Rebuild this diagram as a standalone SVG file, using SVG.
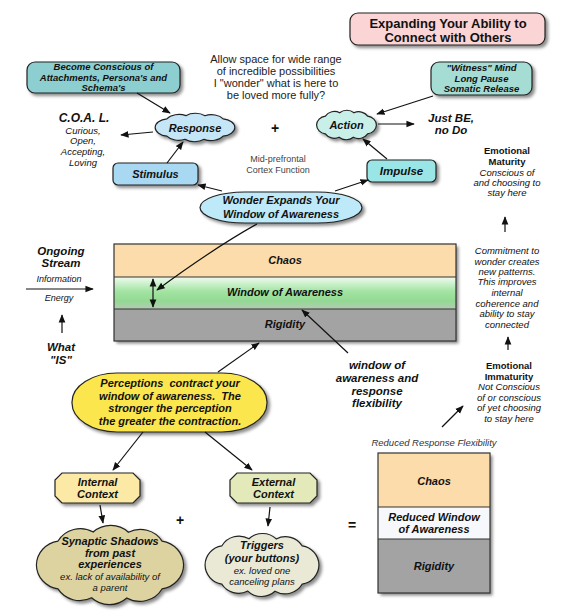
<svg xmlns="http://www.w3.org/2000/svg" xmlns:xlink="http://www.w3.org/1999/xlink" width="580" height="616" viewBox="0 0 580 616">
<defs>
<style>
text{font-family:"Liberation Sans",Arial,sans-serif;fill:#111;text-anchor:middle}
.bi{font-weight:bold;font-style:italic}
.b{font-weight:bold}
.i{font-style:italic}
.s{stroke:#222;stroke-width:1.2}
.sh{filter:url(#shadow)}
.c{stroke:#111;stroke-width:1.2;fill:none;marker-end:url(#ah)}
</style>
<filter id="shadow" x="-20%" y="-20%" width="150%" height="160%">
<feDropShadow dx="2.5" dy="2.5" stdDeviation="1.5" flood-color="#000" flood-opacity="0.45"/>
</filter>
<marker id="ah" viewBox="0 0 10 10" refX="9" refY="5" markerWidth="7" markerHeight="7" orient="auto-start-reverse">
<path d="M0,1 L10,5 L0,9 z" fill="#111"/>
</marker>
<path id="cloud" vector-effect="non-scaling-stroke" d="M92,0 A32,32 0 0 1 65,31.1 A32,32 0 0 1 21,42.8 A32,32 0 0 1 -23,42.6 A32,32 0 0 1 -65,31.1 A32,32 0 0 1 -92,0 A32,32 0 0 1 -65,-31.1 A32,32 0 0 1 -21,-42.8 A32,32 0 0 1 23,-42.6 A32,32 0 0 1 65,-31.1 A32,32 0 0 1 92,0 Z"/>
<linearGradient id="wg" x1="0" y1="0" x2="0" y2="1">
<stop offset="0" stop-color="#f0fbf0"/>
<stop offset="0.45" stop-color="#a2e4a2"/>
<stop offset="0.75" stop-color="#93d993"/>
<stop offset="1" stop-color="#b7c9b7"/>
</linearGradient>
</defs>
<rect width="580" height="616" fill="#fff"/>

<g id="title">
<g class="sh"><rect class="s" x="350" y="13" width="195" height="32" rx="8" fill="#fbd5d5"/></g>
<text class="b" x="448" y="27.5" font-size="13">Expanding Your Ability to</text>
<text class="b" x="448" y="41.5" font-size="13">Connect with Others</text>
</g>

<g id="become">
<g class="sh"><rect class="s" x="27" y="62" width="153" height="31" rx="8" fill="#8dcfd0"/></g>
<text class="bi" x="103.5" y="70" font-size="9.5">Become Conscious of</text>
<text class="bi" x="103.5" y="80.5" font-size="9.5">Attachments, Persona's and</text>
<text class="bi" x="103.5" y="91" font-size="9.5">Schema's</text>
</g>

<g id="allow">
<text x="276" y="63" font-size="11" style="fill:#222">Allow space for wide range</text>
<text x="276" y="75" font-size="11" style="fill:#222">of incredible possibilities</text>
<text x="276" y="87" font-size="11" style="fill:#222">I "wonder" what is here to</text>
<text x="276" y="99" font-size="11" style="fill:#222">be loved more fully?</text>
</g>

<g id="witness">
<g class="sh"><rect class="s" x="431" y="62" width="101" height="33" rx="8" fill="#a5dcd3"/></g>
<text class="bi" x="481.5" y="70.5" font-size="9.5">"Witness" Mind</text>
<text class="bi" x="481.5" y="81.5" font-size="9.5">Long Pause</text>
<text class="bi" x="481.5" y="92" font-size="9.5">Somatic Release</text>
</g>

<g id="coal">
<text class="bi" x="84" y="122" font-size="12">C.O.A. L.</text>
<text class="i" x="83" y="134" font-size="9.5">Curious,</text>
<text class="i" x="83" y="144" font-size="9.5">Open,</text>
<text class="i" x="83" y="155" font-size="9.5">Accepting,</text>
<text class="i" x="83" y="165.5" font-size="9.5">Loving</text>
</g>

<g id="response">
<g class="sh"><use href="#cloud" class="s" fill="#c4e6f6" transform="translate(195,127.5) scale(0.433,0.277)"/></g>
<text class="bi" x="195" y="131.5" font-size="11">Response</text>
</g>

<g id="plus-top"><text class="b" x="275" y="133" font-size="14">+</text></g>

<g id="action">
<g class="sh"><use href="#cloud" class="s" fill="#c9efe9" transform="translate(346.5,125) scale(0.325,0.287)"/></g>
<text class="bi" x="346.5" y="129" font-size="11">Action</text>
</g>

<g id="justbe">
<text class="bi" x="451" y="122" font-size="11.5">Just BE,</text>
<text class="bi" x="451" y="134" font-size="11.5">no Do</text>
</g>

<g id="stimulus">
<g class="sh"><rect class="s" x="113" y="163" width="85" height="22" rx="5" fill="#a9d8f2"/></g>
<text class="bi" x="155.5" y="178" font-size="11">Stimulus</text>
</g>

<g id="midpre">
<text x="278" y="162" font-size="9" style="fill:#444">Mid-prefrontal</text>
<text x="278" y="173" font-size="9" style="fill:#444">Cortex Function</text>
</g>

<g id="impulse">
<g class="sh"><rect class="s" x="367" y="160" width="69" height="22" rx="5" fill="#9ae5e5"/></g>
<text class="bi" x="401.5" y="175" font-size="11.5">Impulse</text>
</g>

<g id="maturity">
<text class="b" x="507" y="154" font-size="9.5">Emotional</text>
<text class="b" x="507" y="165" font-size="9.5">Maturity</text>
<text class="i" x="507" y="175.5" font-size="9.5">Conscious of</text>
<text class="i" x="507" y="186" font-size="9.5">and choosing to</text>
<text class="i" x="507" y="196" font-size="9.5">stay here</text>
</g>

<g id="wonder">
<g class="sh"><rect class="s" x="200" y="192" width="162" height="31" rx="45" ry="15.5" fill="#bde9f8"/></g>
<text class="bi" x="281" y="204" font-size="11">Wonder Expands Your</text>
<text class="bi" x="281" y="218" font-size="11">Window of Awareness</text>
</g>

<g id="stream">
<text class="bi" x="61" y="255" font-size="11.5">Ongoing</text>
<text class="bi" x="61" y="267" font-size="11.5">Stream</text>
<text class="i" x="59" y="282" font-size="9">Information</text>
<text class="i" x="59" y="301" font-size="9">Energy</text>
</g>

<g id="whatis">
<text class="bi" x="61" y="351" font-size="11.5">What</text>
<text class="bi" x="61" y="364" font-size="11.5">"IS"</text>
</g>

<g id="window-main">
<g class="sh"><rect x="114" y="244" width="342" height="97" fill="#a3a3a3"/></g>
<rect x="114" y="244" width="342" height="33" fill="#fddcab"/>
<rect x="114" y="277" width="342" height="32" fill="url(#wg)"/>
<rect x="114" y="309" width="342" height="32" fill="#a3a3a3"/>
<path d="M114,277 H456 M114,309 H456" stroke="#333" stroke-width="1"/>
<rect x="114" y="244" width="342" height="97" fill="none" stroke="#333" stroke-width="1.2"/>
<text class="bi" x="285" y="264" font-size="11">Chaos</text>
<text class="bi" x="285" y="296" font-size="11">Window of Awareness</text>
<text class="bi" x="285" y="327.5" font-size="11">Rigidity</text>
</g>

<g id="commitment">
<text class="i" x="507" y="254" font-size="9.5">Commitment to</text>
<text class="i" x="507" y="264.5" font-size="9.5">wonder creates</text>
<text class="i" x="507" y="274.5" font-size="9.5">new patterns.</text>
<text class="i" x="507" y="285" font-size="9.5">This improves</text>
<text class="i" x="507" y="296" font-size="9.5">internal</text>
<text class="i" x="507" y="306.5" font-size="9.5">coherence and</text>
<text class="i" x="507" y="317" font-size="9.5">ability to stay</text>
<text class="i" x="507" y="328" font-size="9.5">connected</text>
</g>

<g id="flex">
<text class="bi" x="377" y="369" font-size="11.5">window of</text>
<text class="bi" x="377" y="382" font-size="11.5">awareness and</text>
<text class="bi" x="377" y="395" font-size="11.5">response</text>
<text class="bi" x="377" y="407" font-size="11.5">flexibility</text>
</g>

<g id="immaturity">
<text class="b" x="509" y="368.5" font-size="9.5">Emotional</text>
<text class="b" x="509" y="379.5" font-size="9.5">Immaturity</text>
<text class="i" x="509" y="390" font-size="9.5">Not Conscious</text>
<text class="i" x="509" y="400.5" font-size="9.5">of or conscious</text>
<text class="i" x="509" y="410.5" font-size="9.5">of yet choosing</text>
<text class="i" x="509" y="421.5" font-size="9.5">to stay here</text>
</g>

<g id="perceptions">
<g class="sh"><rect class="s" x="72" y="373" width="195" height="59" rx="45" ry="29" fill="#fbe64e"/></g>
<text class="bi" x="170" y="387" font-size="11" xml:space="preserve">Perceptions  contract your</text>
<text class="bi" x="170" y="399.5" font-size="11" xml:space="preserve">window of awareness.  The</text>
<text class="bi" x="170" y="412" font-size="11">stronger the perception</text>
<text class="bi" x="170" y="425" font-size="11">the greater the contraction.</text>
</g>

<g id="internal">
<g class="sh"><path class="s" d="M62,473 H133 L140,480 V496 L133,503 H62 L55,496 V480 Z" fill="#fde9a6"/></g>
<text class="bi" x="97.5" y="486" font-size="11">Internal</text>
<text class="bi" x="97.5" y="498" font-size="11">Context</text>
</g>

<g id="external">
<g class="sh"><path class="s" d="M237,473 H310 L317,480 V496 L310,503 H237 L230,496 V480 Z" fill="#e3e9b9"/></g>
<text class="bi" x="273.5" y="486" font-size="11">External</text>
<text class="bi" x="273.5" y="498" font-size="11">Context</text>
</g>

<g id="synaptic">
<g class="sh"><use href="#cloud" class="s" fill="#ddd3a0" transform="translate(110,565) scale(0.8,0.77)"/></g>
<text class="bi" x="110" y="545" font-size="11">Synaptic Shadows</text>
<text class="bi" x="110" y="556.5" font-size="11">from past</text>
<text class="bi" x="110" y="568" font-size="11">experiences</text>
<text class="i" x="110" y="580" font-size="9.5">ex. lack of availability of</text>
<text class="i" x="110" y="591" font-size="9.5">a parent</text>
</g>

<g id="plus-bottom"><text class="b" x="180" y="525" font-size="14">+</text></g>

<g id="triggers">
<g class="sh"><use href="#cloud" class="s" fill="#e9e9d6" transform="translate(262,565) scale(0.619,0.612)"/></g>
<text class="bi" x="262" y="549" font-size="11">Triggers</text>
<text class="bi" x="262" y="562" font-size="11">(your buttons)</text>
<text class="i" x="262" y="574" font-size="9.5">ex. loved one</text>
<text class="i" x="262" y="584.5" font-size="9.5">canceling plans</text>
</g>

<g id="equals"><text class="b" x="352" y="530" font-size="14">=</text></g>

<g id="reduced">
<text class="i" x="434" y="445.5" font-size="9.5" style="fill:#333">Reduced Response Flexibility</text>
<g class="sh"><rect x="378" y="453" width="112" height="140" fill="#a3a3a3"/></g>
<rect x="378" y="453" width="112" height="54" fill="#fddcab"/>
<rect x="378" y="507" width="112" height="32" fill="#f6f8fc"/>
<path d="M378,507 H490 M378,539 H490" stroke="#333" stroke-width="1"/>
<rect x="378" y="453" width="112" height="140" fill="none" stroke="#333" stroke-width="1.2"/>
<text class="bi" x="434" y="485" font-size="11">Chaos</text>
<text class="bi" x="434" y="521" font-size="11">Reduced Window</text>
<text class="bi" x="434" y="533" font-size="11">of Awareness</text>
<text class="bi" x="434" y="570" font-size="11">Rigidity</text>
</g>

<g id="connectors">
<path class="c" d="M137,93 L170,113"/>
<path class="c" d="M153,132 L121,135"/>
<path class="c" d="M167,163 L183,142"/>
<path class="c" d="M433,96 L377,114"/>
<path class="c" d="M378,124 L414,124"/>
<path class="c" d="M387,159 L363,139"/>
<path class="c" d="M222,191 L198,185"/>
<path class="c" d="M335,191 L368,180"/>
<path class="c" d="M257,224 Q214,248 157,290"/>
<path class="c" d="M153,279 L153,307" style="marker-start:url(#ah)"/>
<path class="c" d="M26,289 L93,289"/>
<path class="c" d="M62,333 L62,315"/>
<path class="c" d="M218,372 L259,343"/>
<path class="c" d="M348,353 L302,310"/>
<path class="c" d="M143,432 L113,470"/>
<path class="c" d="M205,432 L252,470"/>
<path class="c" d="M100,505 L103,523"/>
<path class="c" d="M270,507 L268,526"/>
<path class="c" d="M442,427 L463,406"/>
<path class="c" d="M508,350 L508,337"/>
<path class="c" d="M505,232 L505,217"/>
</g>
</svg>
